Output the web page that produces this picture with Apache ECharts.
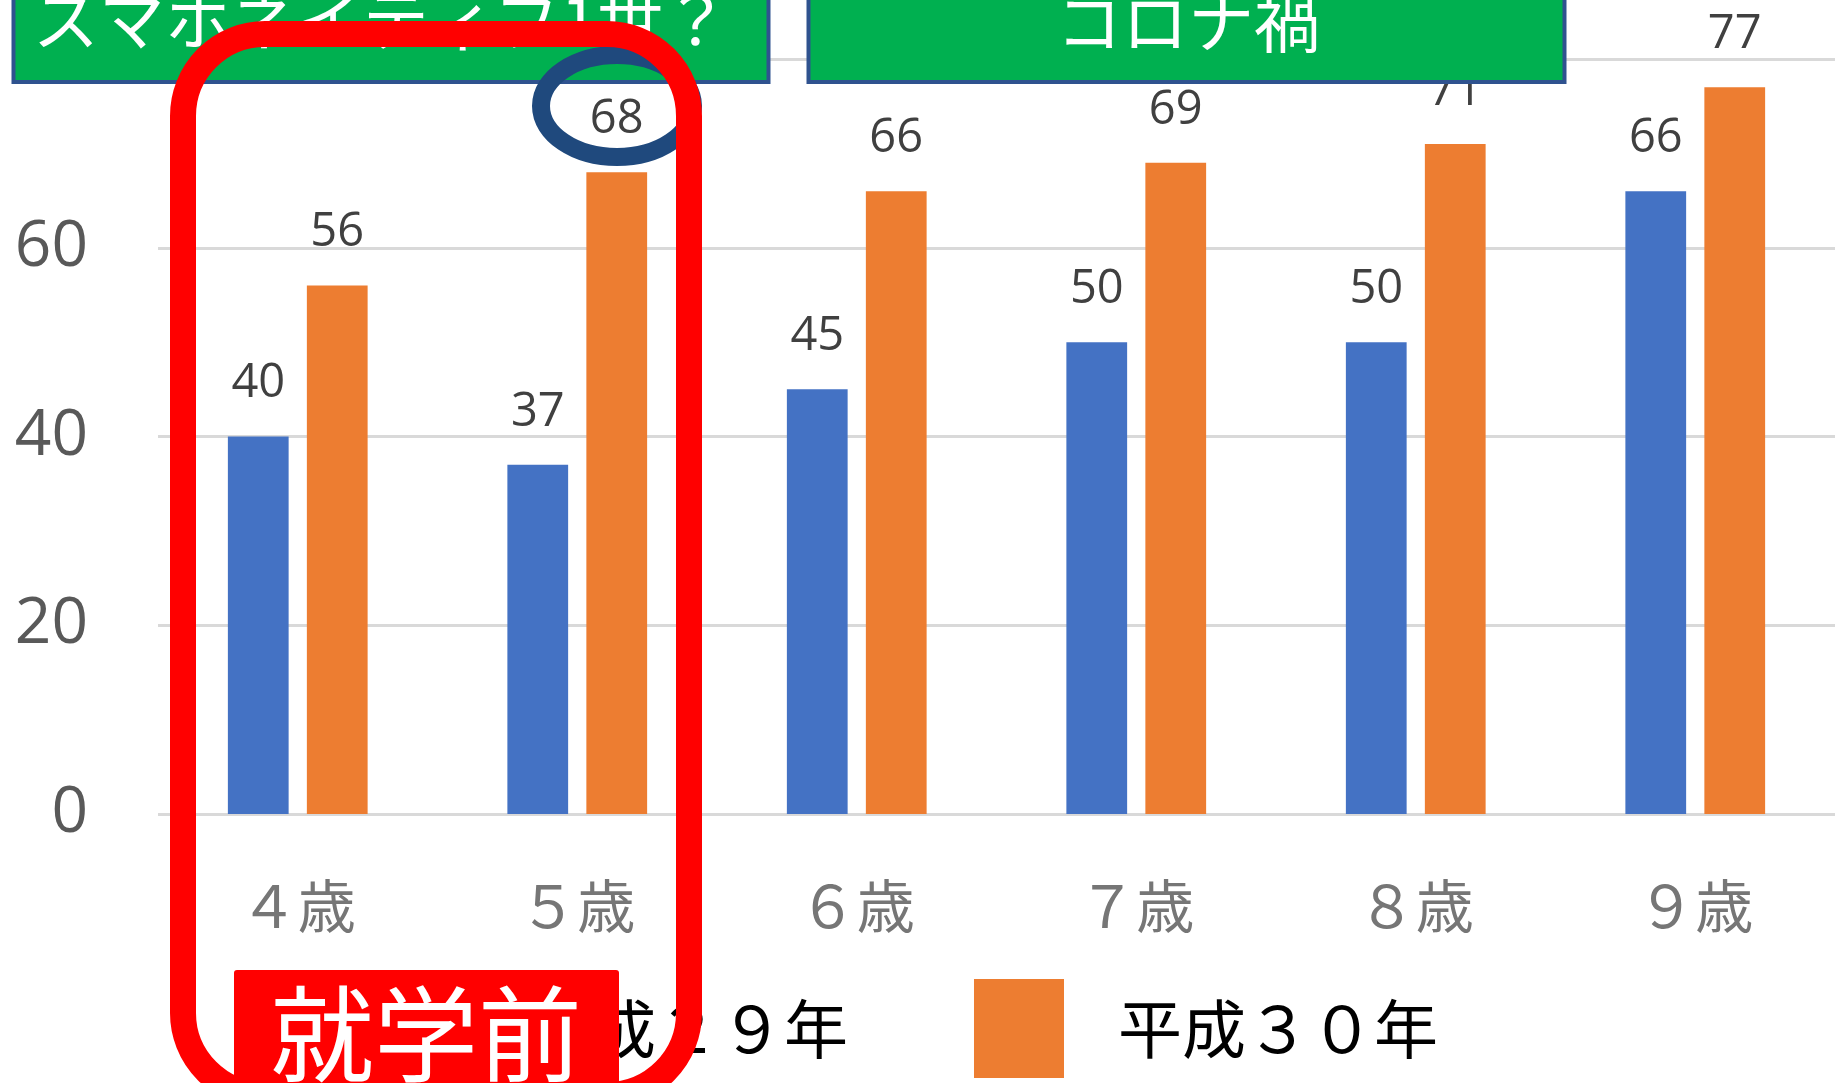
<!DOCTYPE html>
<html>
<head>
<meta charset="utf-8">
<script src="https://cdn.jsdelivr.net/npm/echarts@6/dist/echarts.min.js"></script>
<style>
  html, body { margin: 0; padding: 0; background: #fff; }
  #chart { width: 1835px; height: 1083px; }
</style>
</head>
<body>
<div id="chart"></div>
<script>
// 年齢カテゴリと各年度の値
const ages = ['４歳', '５歳', '６歳', '７歳', '８歳', '９歳'];
const seriesNames = ['平成２９年', '平成３０年'];
const h29 = [40, 37, 45, 50, 50, 66];
const h30 = [56, 68, 66, 69, 71, 77];
const yTicks = [0, 20, 40, 60, 80];

const chart = echarts.init(document.getElementById('chart'));

const jpFont = '"Noto Sans CJK JP", "Noto Sans", sans-serif';
const numFont = '"Open Sans", "Noto Sans", sans-serif';

const labelStyle = {
    show: true,
    position: 'top',
    distance: 29,
    fontSize: 47,
    color: '#404040',
    fontFamily: numFont
};

chart.setOption({
    animation: false,
    backgroundColor: '#ffffff',
    grid: { left: 158, top: 59, width: 1680, height: 755 },
    legend: {
        data: seriesNames,
        left: 384,
        top: 979,
        padding: 0,
        itemGap: 126,
        itemWidth: 90,
        itemHeight: 99,
        icon: 'rect',
        textStyle: {
            fontSize: 64,
            color: '#000000',
            fontFamily: jpFont,
            padding: [0, 0, 0, 49]
        }
    },
    xAxis: {
        type: 'category',
        data: ages,
        axisLine: { show: false },
        axisTick: { show: false },
        axisLabel: {
            margin: 63,
            fontSize: 58,
            color: '#767676',
            fontFamily: jpFont
        }
    },
    yAxis: {
        type: 'value',
        min: yTicks[0],
        max: yTicks[yTicks.length - 1],
        interval: 20,
        axisLine: { show: false },
        axisTick: { show: false },
        axisLabel: {
            margin: 70,
            fontSize: 64,
            color: '#595959',
            fontFamily: numFont
        },
        splitLine: { lineStyle: { color: '#d9d9d9', width: 3 } }
    },
    series: [
        {
            name: seriesNames[0],
            type: 'bar',
            data: h29,
            barGap: '30%',
            barCategoryGap: '50%',
            itemStyle: { color: '#4472c4' },
            label: labelStyle
        },
        {
            name: seriesNames[1],
            type: 'bar',
            data: h30,
            barGap: '30%',
            barCategoryGap: '50%',
            itemStyle: { color: '#ed7d31' },
            label: labelStyle
        }
    ],
    // スライド上の注釈（緑の見出し、丸囲み、赤枠）
    graphic: [
        {
            type: 'rect', z: 100,
            shape: { x: 13.5, y: -60, width: 755, height: 142 },
            style: { fill: '#00b050', stroke: '#2f528f', lineWidth: 4 }
        },
        {
            type: 'text', z: 101, x: 381, y: 20,
            style: {
                text: 'スマホネイティブ1世？', fill: '#ffffff',
                font: '66px "Noto Sans CJK JP"', textAlign: 'center', textVerticalAlign: 'middle'
            }
        },
        {
            type: 'rect', z: 100,
            shape: { x: 808.5, y: -60, width: 756, height: 142 },
            style: { fill: '#00b050', stroke: '#2f528f', lineWidth: 4 }
        },
        {
            type: 'text', z: 101, x: 1188, y: 22,
            style: {
                text: 'コロナ禍', fill: '#ffffff',
                font: '66px "Noto Sans CJK JP"', textAlign: 'center', textVerticalAlign: 'middle'
            }
        },
        {
            type: 'ellipse', z: 110,
            shape: { cx: 617, cy: 106, rx: 76, ry: 51 },
            style: { fill: null, stroke: '#1f497d', lineWidth: 18 }
        },
        {
            type: 'rect', z: 120,
            shape: { x: 183, y: 34, width: 506, height: 1061, r: 82 },
            style: { fill: null, stroke: '#ff0000', lineWidth: 26 }
        },
        {
            type: 'rect', z: 130,
            shape: { x: 234, y: 970, width: 385, height: 130, r: 3 },
            style: { fill: '#ff0000' }
        },
        {
            type: 'text', z: 131, x: 426, y: 1034,
            style: {
                text: '就学前', fill: '#ffffff',
                font: '104px "Noto Sans CJK JP"', textAlign: 'center', textVerticalAlign: 'middle'
            }
        }
    ]
});
</script>
</body>
</html>
